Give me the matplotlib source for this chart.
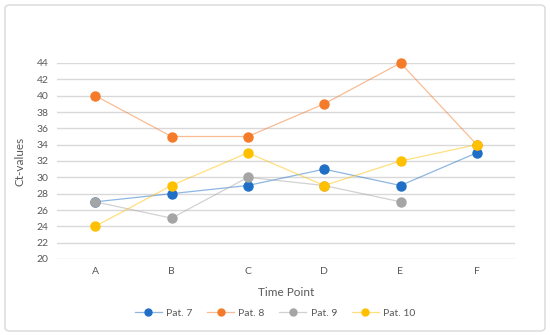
import matplotlib
matplotlib.use("Agg")
import matplotlib.pyplot as plt
from matplotlib.colors import to_rgba
from matplotlib.patches import FancyBboxPatch

# Data
time_points = ["A", "B", "C", "D", "E", "F"]
pat7 = [27, 28, 29, 31, 29, 33]
pat8 = [40, 35, 35, 39, 44, 34]
pat9 = [27, 25, 30, 29, 27, None]
pat10 = [24, 29, 33, 29, 32, 34]
labels = ["Pat. 7", "Pat. 8", "Pat. 9", "Pat. 10"]
yticks = list(range(20, 45, 2))

colors = ["#1F6FC6", "#F47B2A", "#A5A5A5", "#FFC000"]
series = [pat7, pat8, pat9, pat10]

plt.rcParams['font.family'] = ['Lato', 'DejaVu Sans']
text_color = "#595959"

fig = plt.figure(figsize=(5.5, 3.35), dpi=100)
ax = fig.add_axes([57 / 550, 1 - 259 / 335, 458 / 550, 196 / 335])

x = list(range(len(time_points)))
for vals, col, lab in zip(series, colors, labels):
    xs = [i for i, v in zip(x, vals) if v is not None]
    ys = [v for v in vals if v is not None]
    line_col = to_rgba(col, 0.5)
    ax.plot(xs, ys, color=line_col, linewidth=0.9, zorder=2)
    ax.plot(xs, ys, linestyle="none", marker="o", markersize=6.5,
            color=col, zorder=3, clip_on=False)
    # proxy for legend
    ax.plot([], [], color=line_col, marker="o", markersize=5, linewidth=0.9,
            markerfacecolor=col, markeredgecolor=col, label=lab)

ax.set_xlim(-0.5, 5.5)
ax.set_ylim(20, 44)
ax.set_yticks(yticks)
ax.set_xticks(x)
ax.set_xticklabels(time_points)
ax.grid(axis="y", color="#D9D9D9", linewidth=1.0, zorder=0)
ax.set_axisbelow(True)
for s in ax.spines.values():
    s.set_visible(False)
ax.tick_params(length=0, labelsize=7.5, colors=text_color, pad=6)
ax.set_ylabel("Ct-values", fontsize=8.5, color=text_color, labelpad=8)
ax.set_xlabel("Time Point", fontsize=8.5, color=text_color, labelpad=8)

leg = fig.legend(loc="center", bbox_to_anchor=(275 / 550, 1 - 313 / 335),
                 ncol=4, frameon=False, fontsize=7.5, handlelength=2.6,
                 columnspacing=1.4, handletextpad=0.4)
for t in leg.get_texts():
    t.set_color(text_color)

border = FancyBboxPatch((5 / 550, 4 / 335), 540 / 550, 326 / 335,
                        boxstyle="round,pad=0,rounding_size=0.01",
                        transform=fig.transFigure, fill=False,
                        edgecolor="#D9D9D9", linewidth=1.0)
fig.patches.append(border)

fig.savefig("out.png", dpi=100)
